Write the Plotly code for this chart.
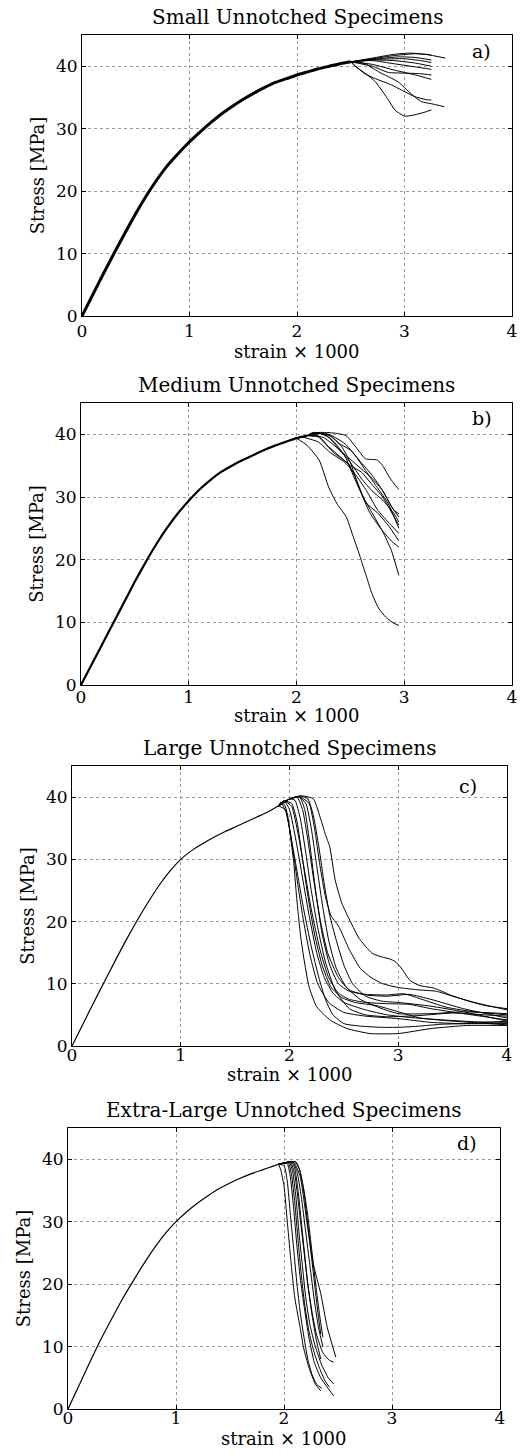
import plotly.graph_objects as go

# ---------------- data ----------------
PANEL_TITLES = ["Small Unnotched Specimens", "Medium Unnotched Specimens",
                "Large Unnotched Specimens", "Extra-Large Unnotched Specimens"]
PANEL_TAGS = ["a)", "b)", "c)", "d)"]
X_TICKS = [0, 1, 2, 3, 4]
Y_TICKS = [0, 10, 20, 30, 40]
X_LABEL = "strain \u00d7 1000"
Y_LABEL = "Stress [MPa]"

# common pre-peak branch of each panel
ASC_A_X = [0, 0.1, 0.2, 0.3, 0.4, 0.5, 0.6, 0.7, 0.8, 0.9, 1.0, 1.1, 1.2, 1.3,
           1.4, 1.5, 1.6, 1.7, 1.8, 1.9, 2.0, 2.1, 2.2, 2.3, 2.4, 2.5]
ASC_A_Y = [0, 3.4, 6.8, 10.1, 13.3, 16.4, 19.3, 21.9, 24.2, 26.1, 27.9, 29.5, 31.0, 32.4,
           33.6, 34.7, 35.7, 36.6, 37.4, 38.0, 38.6, 39.1, 39.6, 40.0, 40.4, 40.7]
ASC_B_X = [0, 0.1, 0.2, 0.3, 0.4, 0.5, 0.6, 0.7, 0.8, 0.9, 1.0, 1.1, 1.2, 1.3,
           1.4, 1.5, 1.6, 1.7, 1.8, 1.9, 2.0, 2.1]
ASC_B_Y = [0, 3.3, 6.6, 9.9, 13.2, 16.5, 19.6, 22.5, 25.1, 27.4, 29.4, 31.2, 32.7, 34.0,
           35.0, 35.9, 36.7, 37.5, 38.2, 38.8, 39.4, 39.8]
ASC_C_X = [0, 0.1, 0.2, 0.3, 0.4, 0.5, 0.6, 0.7, 0.8, 0.9, 1.0, 1.1, 1.2, 1.3,
           1.4, 1.5, 1.6, 1.7, 1.8, 1.9]
ASC_C_Y = [0, 3.5, 7.0, 10.4, 13.8, 17.1, 20.2, 23.1, 25.8, 28.1, 30.0, 31.4, 32.5, 33.5,
           34.4, 35.2, 36.0, 36.8, 37.6, 38.6]
ASC_D_X = [0, 0.1, 0.2, 0.3, 0.4, 0.5, 0.6, 0.7, 0.8, 0.9, 1.0, 1.1, 1.2, 1.3,
           1.4, 1.5, 1.6, 1.7, 1.8, 1.9, 1.95]
ASC_D_Y = [0, 3.7, 7.4, 11.0, 14.3, 17.5, 20.4, 23.2, 25.8, 28.1, 30.0, 31.6, 33.0, 34.2,
           35.3, 36.2, 37.0, 37.7, 38.3, 38.9, 39.2]

# post-peak branches of the individual specimens
TAILS_A_X = [
    [2.5, 2.7, 2.9, 3.05, 3.2, 3.38],
    [2.5, 2.7, 2.9, 3.1, 3.25],
    [2.5, 2.75, 2.95, 3.1, 3.25],
    [2.5, 2.75, 3.0, 3.15, 3.25],
    [2.5, 2.7, 2.9, 3.1, 3.25],
    [2.5, 2.7, 2.9, 3.1, 3.25],
    [2.5, 2.7, 2.9, 3.1, 3.25],
    [2.5, 2.7, 2.85, 3.0, 3.15, 3.25],
    [2.5, 2.54, 2.64, 2.73, 2.85, 2.91, 3.0, 3.09, 3.18, 3.25],
    [2.5, 2.63, 2.73, 2.88, 2.97, 3.1, 3.22, 3.25],
    [2.5, 2.62, 2.76, 2.94, 3.06, 3.16, 3.25, 3.37],
]
TAILS_A_Y = [
    [40.7, 41.3, 41.9, 42.1, 41.9, 41.3],
    [40.7, 41.2, 41.7, 42.0, 41.8],
    [40.7, 41.2, 41.5, 41.4, 41.0],
    [40.7, 41.1, 41.2, 40.9, 40.6],
    [40.7, 41.0, 40.9, 40.5, 40.0],
    [40.7, 40.9, 40.4, 39.9, 39.5],
    [40.7, 40.3, 39.4, 38.6, 37.9],
    [40.7, 40.0, 39.0, 38.9, 38.8, 38.6],
    [40.7, 40.0, 38.8, 37.5, 34.6, 33.0, 32.0, 32.2, 32.6, 33.0],
    [40.7, 38.8, 38.0, 37.0, 36.2, 35.1, 34.6, 34.6],
    [40.7, 40.5, 39.1, 37.5, 35.6, 34.3, 34.0, 33.5],
]

TAILS_B_X = [
    [2.0, 2.1, 2.21, 2.3, 2.38, 2.46, 2.52, 2.58, 2.64, 2.70, 2.76, 2.83, 2.9, 2.95],
    [2.1, 2.21, 2.35, 2.46, 2.55, 2.64, 2.75, 2.8, 2.86, 2.92, 2.95],
    [2.1, 2.2, 2.3, 2.4, 2.5, 2.6, 2.7, 2.8, 2.9, 2.95],
    [2.1, 2.25, 2.35, 2.45, 2.55, 2.65, 2.75, 2.85, 2.95],
    [2.1, 2.2, 2.3, 2.4, 2.5, 2.6, 2.7, 2.8, 2.9, 2.95],
    [2.1, 2.15, 2.3, 2.42, 2.5, 2.58, 2.68, 2.78, 2.88, 2.95],
    [2.1, 2.25, 2.4, 2.5, 2.6, 2.7, 2.8, 2.88, 2.95],
    [2.1, 2.2, 2.35, 2.48, 2.55, 2.62, 2.7, 2.8, 2.88, 2.95],
    [2.1, 2.15, 2.3, 2.45, 2.55, 2.65, 2.75, 2.85, 2.95],
    [2.05, 2.2, 2.32, 2.45, 2.55, 2.65, 2.75, 2.85, 2.95],
    [2.1, 2.2, 2.32, 2.4, 2.5, 2.6, 2.7, 2.8, 2.9, 2.95],
]
TAILS_B_Y = [
    [39.4, 38.2, 35.9, 31.5, 28.8, 26.9, 24.0, 21.0, 17.8, 14.6, 12.3, 10.8, 9.9, 9.5],
    [39.8, 40.3, 40.2, 39.8, 38.0, 36.1, 35.9, 35.0, 33.2, 31.8, 31.2],
    [39.8, 40.2, 39.5, 37.5, 35.5, 33.0, 31.0, 29.5, 27.5, 26.0],
    [39.8, 40.1, 38.8, 36.5, 32.5, 29.0, 27.5, 25.5, 23.0],
    [39.8, 39.8, 38.0, 36.5, 35.0, 34.0, 32.0, 30.0, 27.0, 25.5],
    [39.8, 40.2, 39.9, 38.0, 35.5, 31.5, 27.5, 25.0, 23.0, 22.0],
    [39.8, 39.5, 37.5, 36.0, 34.5, 33.0, 31.0, 28.5, 26.8],
    [39.8, 39.6, 37.0, 35.3, 33.0, 30.0, 27.5, 24.5, 21.5, 17.5],
    [39.8, 40.3, 40.0, 38.5, 36.5, 34.0, 31.5, 29.0, 25.0],
    [39.6, 38.8, 37.0, 35.5, 33.5, 31.0, 28.0, 26.0, 24.2],
    [39.8, 40.2, 39.7, 38.5, 37.5, 35.5, 33.5, 31.0, 28.0, 27.3],
]

TAILS_C_X = [
    [1.9, 1.95, 1.98, 2.01, 2.04, 2.06, 2.08, 2.1, 2.13, 2.18, 2.25, 2.38, 2.53, 2.74, 3.0, 3.3, 3.63, 4.0],
    [1.9, 1.92, 1.97, 2.03, 2.08, 2.13, 2.2, 2.27, 2.33, 2.4, 2.5, 2.65, 2.85, 3.0, 3.2, 3.4, 3.7, 4.0],
    [1.9, 1.95, 2.0, 2.06, 2.12, 2.18, 2.25, 2.32, 2.4, 2.5, 2.7, 2.9, 3.1, 3.4, 3.7, 4.0],
    [1.9, 1.95, 2.02, 2.08, 2.14, 2.2, 2.28, 2.36, 2.45, 2.55, 2.7, 2.9, 3.1, 3.3, 3.6, 4.0],
    [1.9, 2.0, 2.05, 2.1, 2.15, 2.2, 2.26, 2.33, 2.42, 2.55, 2.7, 2.9, 3.2, 3.5, 3.8, 4.0],
    [1.9, 2.0, 2.07, 2.12, 2.17, 2.22, 2.28, 2.35, 2.45, 2.55, 2.7, 2.9, 3.1, 3.3, 3.6, 4.0],
    [1.9, 2.0, 2.08, 2.15, 2.2, 2.25, 2.3, 2.36, 2.43, 2.52, 2.65, 2.85, 3.0, 3.3, 3.6, 4.0],
    [1.9, 2.0, 2.1, 2.17, 2.22, 2.27, 2.32, 2.37, 2.43, 2.5, 2.58, 2.7, 2.85, 3.0, 3.3, 3.6, 4.0],
    [1.9, 2.0, 2.12, 2.22, 2.29, 2.33, 2.37, 2.42, 2.48, 2.56, 2.64, 2.76, 2.85, 2.92, 2.97,
     3.02, 3.11, 3.2, 3.33, 3.48, 3.63, 3.8, 4.0],
    [1.9, 2.0, 2.1, 2.18, 2.23, 2.28, 2.33, 2.38, 2.45, 2.55, 2.65, 2.75, 2.86, 3.0, 3.2, 3.35, 3.5, 3.7, 4.0],
    [1.9, 1.95, 2.02, 2.07, 2.12, 2.17, 2.23, 2.3, 2.38, 2.48, 2.6, 2.8, 3.0, 3.2, 3.5, 4.0],
    [1.9, 1.96, 2.0, 2.04, 2.08, 2.13, 2.19, 2.26, 2.36, 2.5, 2.7, 3.0, 3.3, 3.6, 4.0],
    [1.9, 2.0, 2.09, 2.14, 2.19, 2.24, 2.3, 2.37, 2.45, 2.55, 2.7, 2.9, 3.05, 3.2, 3.45, 3.7, 4.0],
]
TAILS_C_Y = [
    [38.6, 38.9, 37.3, 33.5, 29.3, 25.0, 21.3, 18.0, 14.3, 9.5, 6.3, 4.1, 2.8, 2.0, 2.0, 2.8, 3.3, 3.3],
    [38.6, 39.2, 37.5, 32.0, 27.0, 22.0, 16.0, 11.0, 7.5, 5.0, 3.6, 3.2, 3.0, 3.0, 3.2, 3.5, 3.6, 3.6],
    [38.6, 39.4, 38.0, 33.0, 27.0, 21.0, 15.0, 11.0, 8.5, 7.0, 5.8, 5.0, 4.6, 4.2, 3.9, 3.8],
    [38.6, 39.4, 38.5, 34.0, 28.0, 22.0, 15.5, 11.0, 8.5, 7.5, 7.0, 6.8, 6.7, 6.0, 5.2, 4.2],
    [38.6, 39.7, 39.5, 36.5, 31.0, 25.0, 19.0, 13.5, 9.0, 6.0, 5.0, 4.7, 4.9, 5.3, 5.0, 4.8],
    [38.6, 39.7, 40.0, 38.0, 33.0, 27.0, 20.5, 15.0, 11.0, 9.0, 8.2, 8.0, 8.3, 7.5, 6.0, 4.5],
    [38.6, 39.7, 40.1, 39.0, 35.0, 29.0, 23.0, 17.0, 12.5, 9.5, 7.5, 6.0, 5.2, 5.2, 5.5, 5.2],
    [38.6, 39.7, 40.2, 39.7, 37.0, 32.0, 26.0, 21.0, 17.0, 13.0, 10.0, 8.0, 7.2, 7.0, 6.4, 5.5, 4.0],
    [38.6, 39.7, 40.2, 39.7, 36.3, 34.0, 32.0, 26.7, 23.0, 20.0, 17.3, 14.9, 14.3, 14.0, 13.6,
     12.7, 10.5, 9.7, 9.3, 8.2, 7.3, 6.5, 6.0],
    [38.6, 39.7, 40.0, 39.0, 35.0, 29.0, 24.0, 21.0, 19.3, 15.5, 12.5, 11.0, 10.0, 9.4, 9.0, 8.8, 8.0, 7.0, 5.8],
    [38.6, 39.4, 39.0, 36.0, 30.0, 24.0, 18.0, 13.0, 9.5, 7.8, 7.0, 6.5, 5.5, 4.5, 4.0, 3.4],
    [38.6, 38.0, 35.0, 30.5, 25.5, 20.0, 14.5, 10.0, 7.0, 5.4, 4.8, 4.4, 3.8, 3.6, 4.0],
    [38.6, 39.7, 40.1, 38.0, 32.0, 25.0, 18.0, 13.0, 10.0, 8.8, 8.3, 8.2, 8.4, 7.6, 6.2, 5.5, 5.0],
]

TAILS_D_X = [
    [1.95, 1.97, 2.0, 2.03, 2.07, 2.1, 2.15, 2.18, 2.23, 2.29, 2.34],
    [1.95, 2.0, 2.03, 2.06, 2.09, 2.12, 2.15, 2.18, 2.22, 2.26, 2.3, 2.35],
    [1.95, 2.03, 2.06, 2.09, 2.12, 2.15, 2.19, 2.23, 2.28, 2.34, 2.4, 2.46],
    [1.95, 2.05, 2.08, 2.11, 2.14, 2.17, 2.2, 2.24, 2.29, 2.35, 2.41, 2.46],
    [1.95, 2.07, 2.1, 2.13, 2.16, 2.19, 2.22, 2.26, 2.3, 2.36, 2.42, 2.46],
    [1.95, 2.09, 2.15, 2.21, 2.27, 2.34, 2.4, 2.48],
    [1.95, 2.1, 2.14, 2.18, 2.22, 2.26, 2.3, 2.33, 2.36],
    [1.95, 2.08, 2.12, 2.16, 2.2, 2.24, 2.28, 2.32, 2.36],
    [1.95, 2.06, 2.1, 2.14, 2.18, 2.22, 2.26, 2.3, 2.34],
    [1.95, 2.04, 2.07, 2.1, 2.13, 2.16, 2.19, 2.23, 2.28, 2.33, 2.38, 2.42],
    [1.95, 2.11, 2.15, 2.19, 2.23, 2.27, 2.31, 2.34],
]
TAILS_D_Y = [
    [39.2, 38.3, 35.7, 30.1, 22.6, 17.8, 13.0, 9.9, 6.7, 4.0, 2.9],
    [39.2, 39.0, 36.5, 31.0, 25.5, 20.0, 15.5, 12.0, 8.0, 5.5, 4.0, 3.3],
    [39.2, 39.3, 37.0, 32.0, 26.0, 21.0, 16.0, 11.5, 7.5, 5.0, 3.5, 2.1],
    [39.2, 39.5, 38.0, 34.0, 28.0, 23.0, 18.0, 13.5, 10.0, 7.0, 5.0, 4.0],
    [39.2, 39.6, 38.5, 35.0, 30.0, 25.0, 20.0, 15.5, 12.0, 9.0, 7.8, 7.5],
    [39.2, 39.5, 37.2, 30.2, 23.3, 18.5, 13.1, 8.3],
    [39.2, 39.6, 38.5, 35.5, 31.0, 25.0, 19.0, 15.0, 11.5],
    [39.2, 39.6, 38.0, 34.0, 28.5, 23.0, 17.5, 13.0, 10.0],
    [39.2, 39.5, 37.5, 32.0, 26.0, 20.0, 15.0, 11.0, 8.0],
    [39.2, 39.4, 37.5, 33.0, 27.0, 21.5, 17.0, 12.5, 9.0, 6.5, 4.5, 3.5],
    [39.2, 39.6, 38.0, 34.0, 28.0, 22.0, 16.0, 12.0],
]

ASC_X = [ASC_A_X, ASC_B_X, ASC_C_X, ASC_D_X]
ASC_Y = [ASC_A_Y, ASC_B_Y, ASC_C_Y, ASC_D_Y]
TAILS_X = [TAILS_A_X, TAILS_B_X, TAILS_C_X, TAILS_D_X]
TAILS_Y = [TAILS_A_Y, TAILS_B_Y, TAILS_C_Y, TAILS_D_Y]

# ---------------- layout ----------------
W, H = 520, 1453
FONT = "DejaVu Serif"
# plot boxes in pixels: left, right, top, bottom
BOXES = [(82, 512, 35, 316), (81, 512, 403, 685), (72, 507, 766, 1046), (68, 500, 1128, 1409)]
ASC_WIDTH = [3.0, 2.2, 1.2, 1.2]
TAG_POS = [(0.93, 0.943), (0.93, 0.947), (0.91, 0.93), (0.924, 0.947)]
TICK_STANDOFF = [0, -3, -6, -6]
XTITLE_GAP = [36, 30, 28, 29]

fig = go.Figure()
layout = dict(width=W, height=H, margin=dict(l=0, r=0, t=0, b=0, autoexpand=False),
              paper_bgcolor="white", plot_bgcolor="white", showlegend=False,
              font=dict(family=FONT, color="black"))
annotations = []

for i in range(4):
    sfx = "" if i == 0 else str(i + 1)
    xr, yr = "x" + sfx, "y" + sfx
    l, r, t, b = BOXES[i]
    xdom = [l / W, r / W]
    ydom = [1 - b / H, 1 - t / H]
    common = dict(showgrid=True, gridcolor="#999999", griddash="dot", gridwidth=1,
                  showline=True, linecolor="black", linewidth=1, mirror="allticks",
                  ticks="inside", ticklen=4, tickcolor="black", zeroline=False,
                  automargin=False, ticklabeloverflow="allow",
                  tickfont=dict(family=FONT, size=17, color="black"))
    layout["xaxis" + sfx] = dict(common, domain=xdom, anchor=yr, range=[0, 4],
                                 tickvals=X_TICKS, ticklabelstandoff=TICK_STANDOFF[i])
    layout["yaxis" + sfx] = dict(common, domain=ydom, anchor=xr, range=[0, 45],
                                 tickvals=Y_TICKS,
                                 title=dict(text=Y_LABEL, standoff=6,
                                            font=dict(family=FONT, size=18)))
    fig.add_trace(go.Scatter(x=ASC_X[i], y=ASC_Y[i], mode="lines", xaxis=xr, yaxis=yr,
                             line=dict(color="black", width=ASC_WIDTH[i], shape="spline",
                                       smoothing=0.5),
                             hoverinfo="skip"))
    for tx, ty in zip(TAILS_X[i], TAILS_Y[i]):
        fig.add_trace(go.Scatter(x=tx, y=ty, mode="lines", xaxis=xr, yaxis=yr,
                                 line=dict(color="black", width=1.0, shape="spline",
                                           smoothing=0.5),
                                 hoverinfo="skip"))
    annotations.append(dict(text=PANEL_TITLES[i], xref="paper", yref="paper",
                            x=(l + r) / 2 / W, y=1 - (t - 18) / H, xanchor="center",
                            yanchor="middle", showarrow=False,
                            font=dict(family=FONT, size=20, color="black")))
    annotations.append(dict(text=X_LABEL, xref="paper", yref="paper",
                            x=(l + r) / 2 / W, y=1 - (b + XTITLE_GAP[i]) / H,
                            xanchor="center", yanchor="middle", showarrow=False,
                            font=dict(family=FONT, size=18, color="black")))
    annotations.append(dict(text=PANEL_TAGS[i], xref=xr + " domain", yref=yr + " domain",
                            x=TAG_POS[i][0], y=TAG_POS[i][1], xanchor="center",
                            yanchor="middle", showarrow=False,
                            font=dict(family=FONT, size=19, color="black")))

layout["annotations"] = annotations
fig.update_layout(**layout)
fig.write_html("out.html", config={"displayModeBar": False},
               post_script="document.body.style.margin='0px';"
                           "document.body.style.overflow='hidden';")
